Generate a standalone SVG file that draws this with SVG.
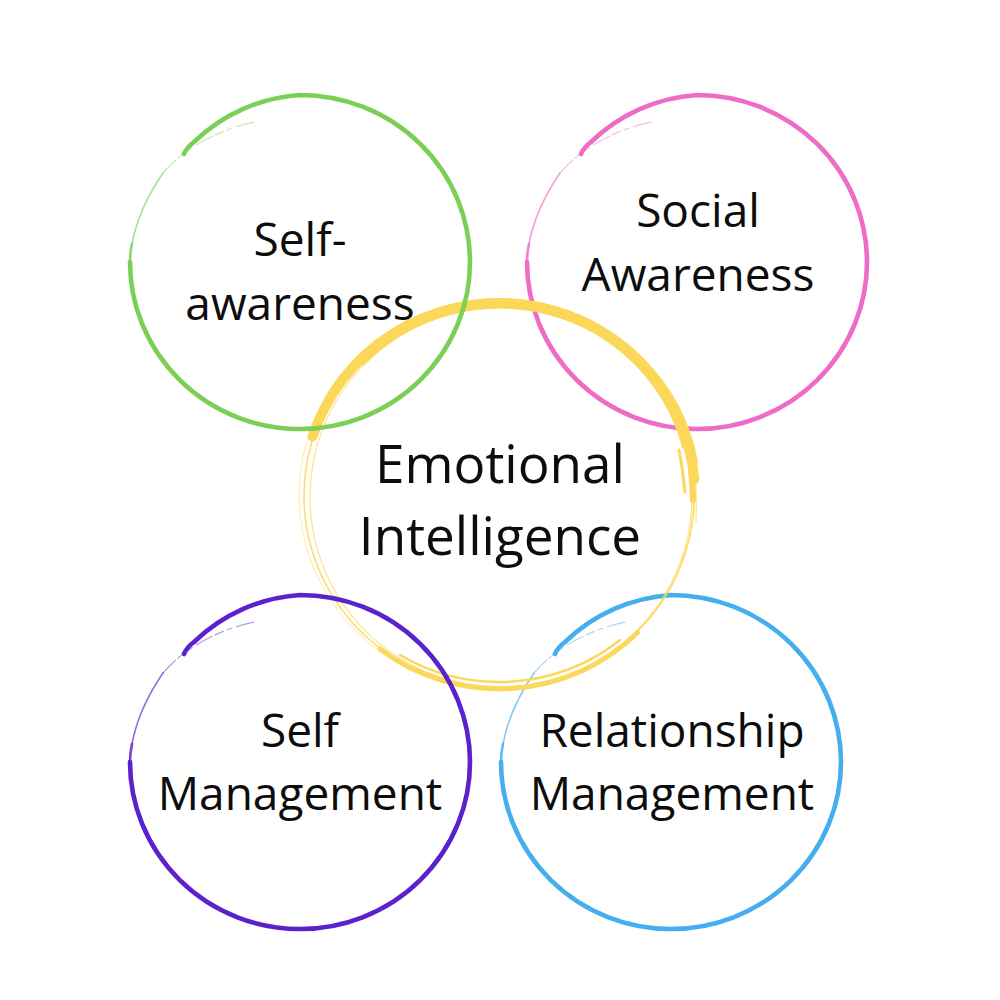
<svg xmlns="http://www.w3.org/2000/svg" xmlns:xlink="http://www.w3.org/1999/xlink" width="1000" height="1000" viewBox="0 0 1000 1000">
  <style>
    .lbl { font-family: "Open Sans", "Noto Sans", "Liberation Sans", sans-serif; font-size: 46px; fill: #0d0d0d; text-anchor: middle; }
    .big { font-size: 53px; }
    .ring path { fill: none; stroke-linecap: round; stroke-linejoin: round; }
    .y { fill: none; stroke: #fbd75a; stroke-linecap: round; }
  </style>
  <defs>
    <g id="ring" class="ring">
      <path d="M -116,-108 Q -113,-115 -106,-120 A 168 166 0 0 1 0,-167 A 170 167 0 0 1 170,0 A 170 167 0 0 1 0,167 A 170 167 0 0 1 -170,0" stroke-width="4.6"/>
      <path d="M -170,0 Q -170,-9 -168,-18" stroke-width="2.6" stroke-opacity="0.85"/>
      <path d="M -168,-18 C -163,-45 -150,-70 -137,-89" stroke-width="1.6" stroke-opacity="0.65"/>
      <path d="M -137,-89 C -115,-115 -80,-133 -45,-140" stroke-width="1.2" stroke-opacity="0.45" stroke-dasharray="18 3 9 4 5 5"/>
    </g>
  </defs>

  <rect x="0" y="0" width="1000" height="1000" fill="#ffffff"/>

  <g id="connectors"></g>

  <g id="node-social-awareness">
    <use xlink:href="#ring" href="#ring" transform="translate(697,262)" style="stroke:#ee6cc6"/>
    <text class="lbl" x="698" y="227">Social</text>
    <text class="lbl" x="698" y="291">Awareness</text>
  </g>

  <g id="node-relationship-management">
    <use xlink:href="#ring" href="#ring" transform="translate(671,762)" style="stroke:#45aeee"/>
    <text class="lbl" x="672" y="747">Relationship</text>
    <text class="lbl" x="672" y="810">Management</text>
  </g>

  <g id="node-emotional-intelligence">
    <ellipse class="y" cx="499" cy="496" rx="195" ry="192" stroke-width="1.6" stroke-opacity="0.85"/>
    <ellipse class="y" cx="501" cy="497" rx="191" ry="190" stroke-width="1.2" stroke-opacity="0.7"/>
    <ellipse class="y" cx="497" cy="495" rx="198" ry="194" stroke-width="1" stroke-opacity="0.55"/>
    <path class="y" d="M 312.6,436.4 A 196 193 0 0 1 694.3,479.2" stroke-width="10"/>
    <path class="y" d="M 326.7,398 A 200 197 0 0 1 696,461.9" stroke-width="4"/>
    <path class="y" d="M 364,363.1 A 190 187 0 0 1 683.5,447.3" stroke-width="3"/>
    <path class="y" d="M 687,440 Q 692,468 693,500" stroke-width="6"/>
    <path class="y" d="M 679,450 Q 683,470 685,492" stroke-width="3"/>
    <path class="y" d="M 695,470 Q 697,495 696,522" stroke-width="1.5" stroke-opacity="0.6"/>
    <path class="y" d="M 637.6,632.5 A 196 193 0 0 1 380,649" stroke-width="5"/>
    <path class="y" d="M 620,640 A 193 190 0 0 1 400,655" stroke-width="2.5"/>
    <text class="lbl big" x="500" y="483">Emotional</text>
    <text class="lbl big" x="500" y="555">Intelligence</text>
  </g>

  <g id="node-self-awareness">
    <use xlink:href="#ring" href="#ring" transform="translate(300,262)" style="stroke:#7ccf56"/>
    <text class="lbl" x="300" y="256">Self-</text>
    <text class="lbl" x="300" y="320">awareness</text>
  </g>

  <g id="node-self-management">
    <use xlink:href="#ring" href="#ring" transform="translate(300,762)" style="stroke:#5a22cc"/>
    <text class="lbl" x="300" y="747">Self</text>
    <text class="lbl" x="300" y="810">Management</text>
  </g>
</svg>
